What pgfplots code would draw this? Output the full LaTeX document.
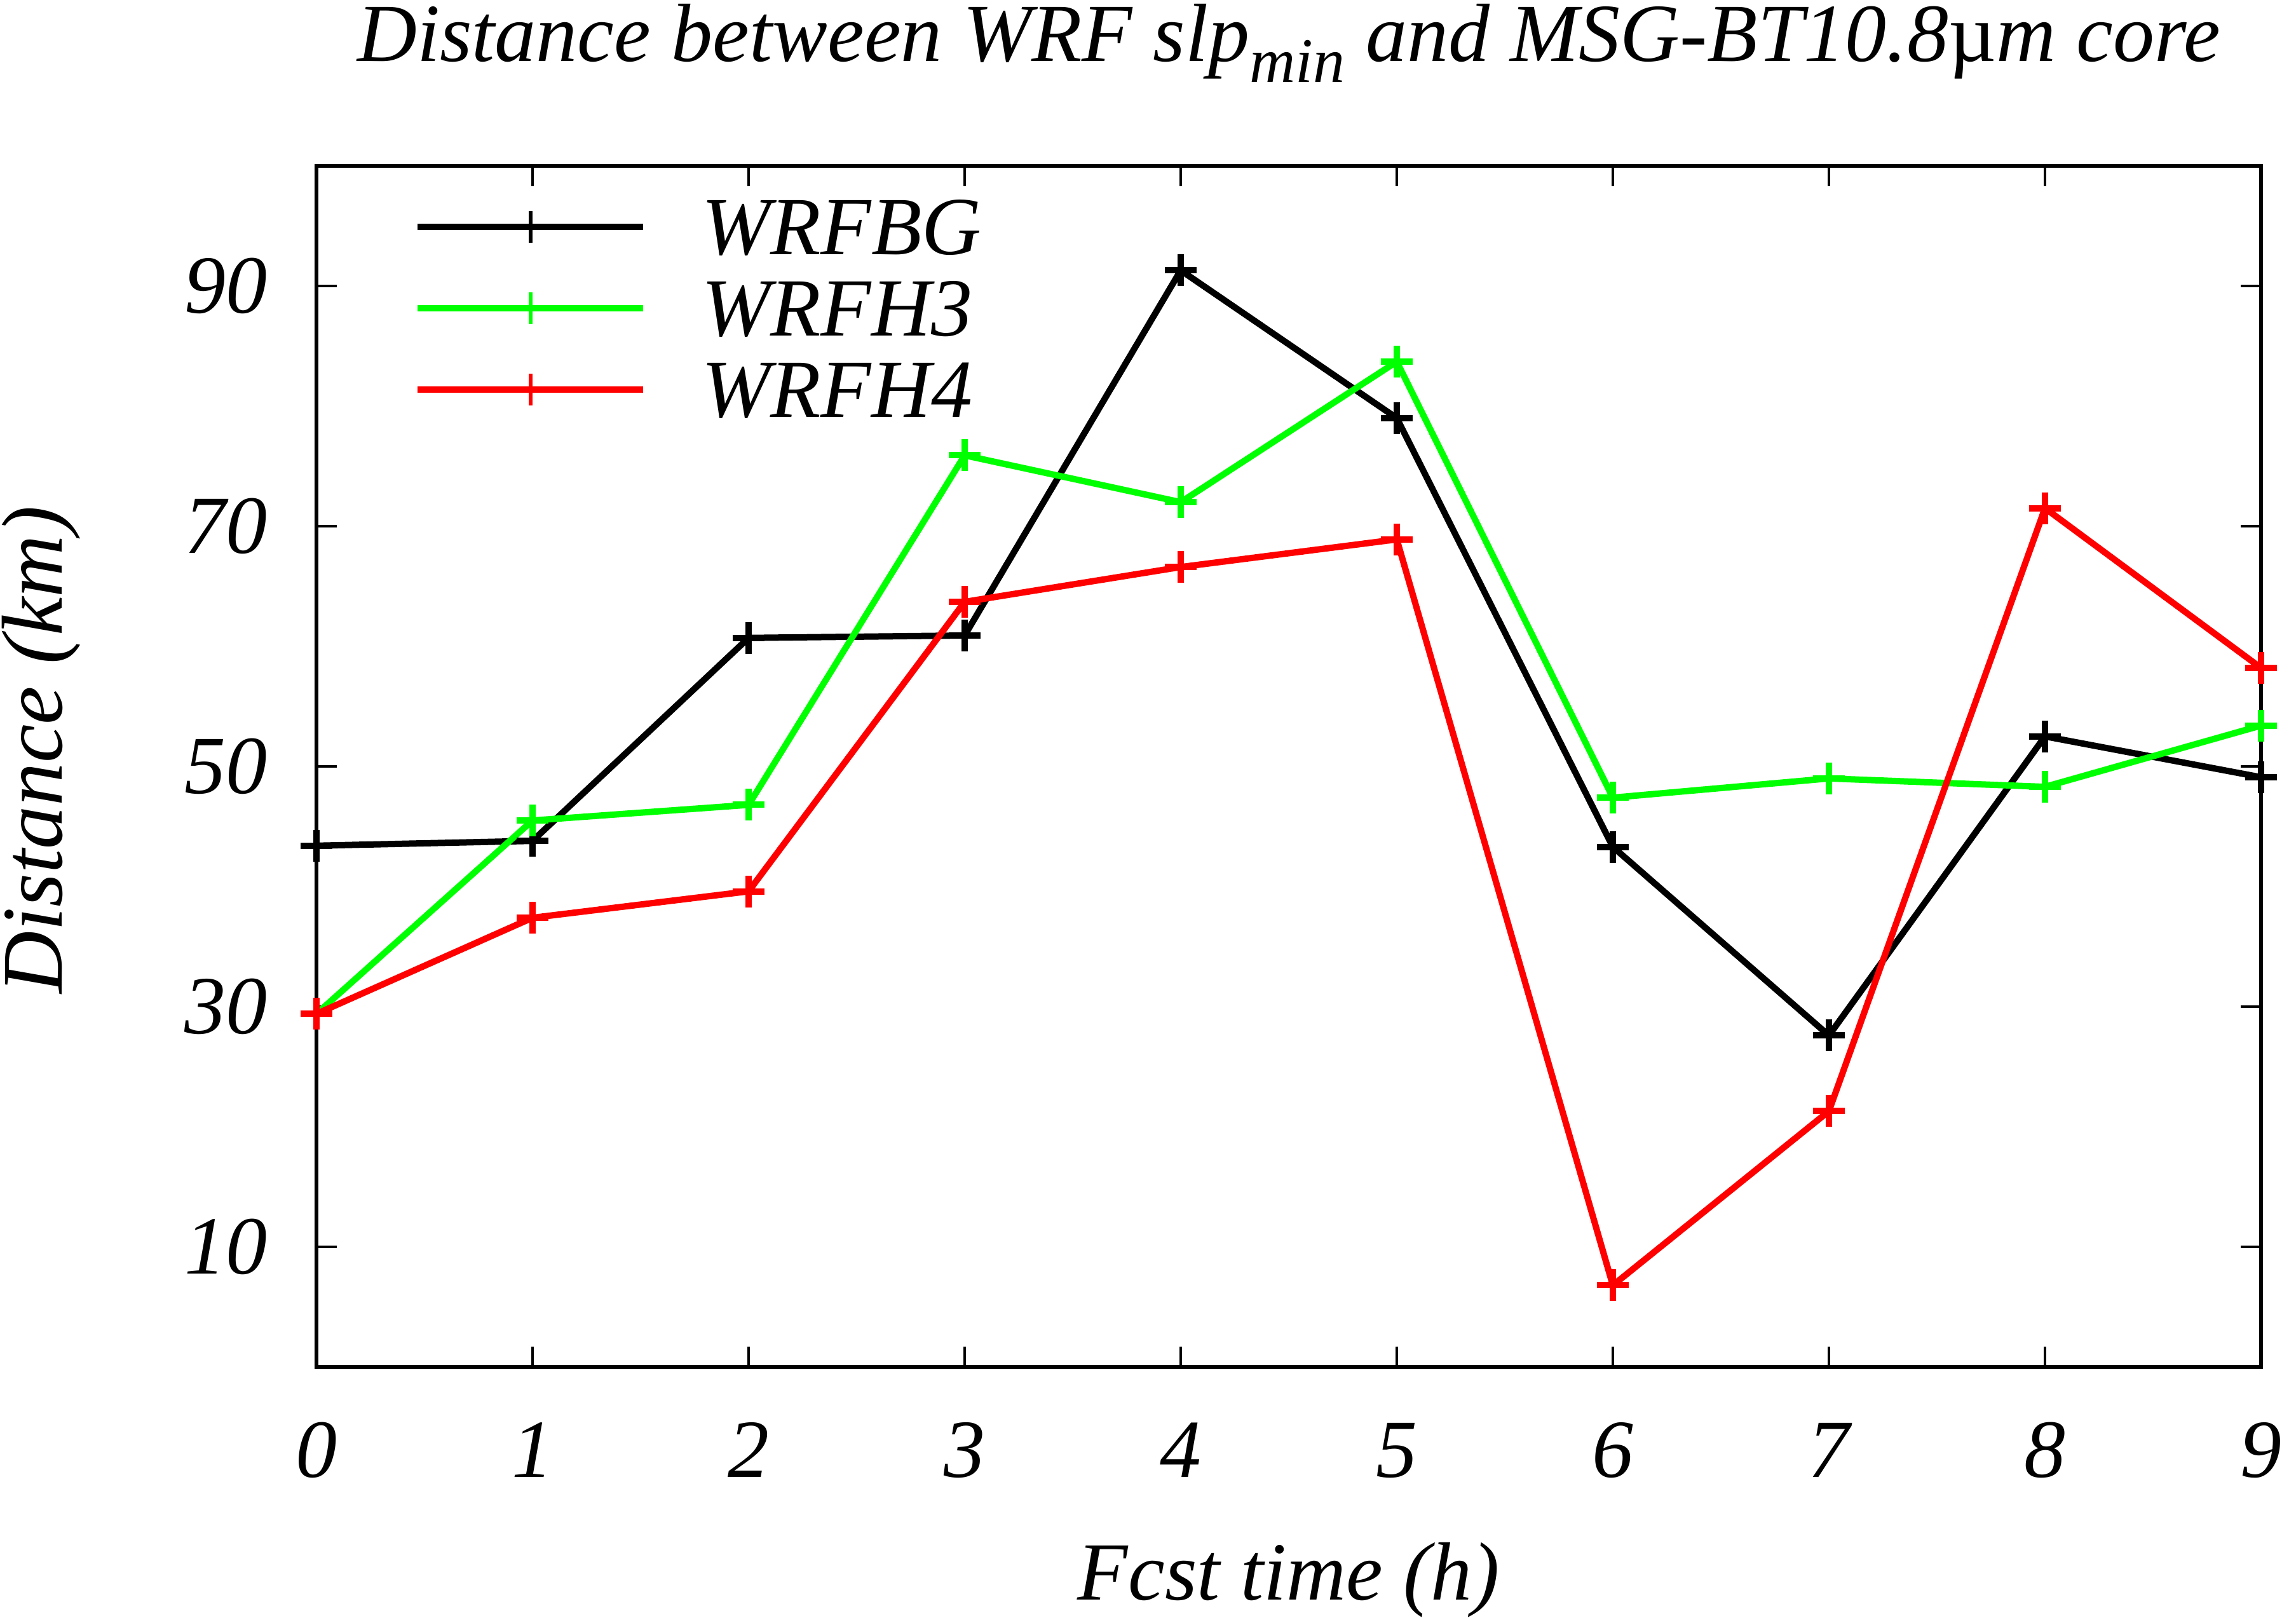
\documentclass[border=0pt]{standalone}
\usepackage{fontspec}
\setmainfont{Liberation Serif}
\usepackage{pgfplots}
\pgfplotsset{compat=1.18}
\definecolor{lgreen}{RGB}{0,255,0}
\definecolor{lred}{RGB}{255,0,0}
\begin{document}
\begin{tikzpicture}[font=\fontsize{13}{15.6}\selectfont\itshape]
\useasboundingbox (-49.8pt,-39.4pt) rectangle (311.5pt,215.1pt);
\begin{axis}[
  scale only axis, width=306pt, height=189pt,
  at={(0,0)}, anchor=south west,
  xmin=0, xmax=9, ymin=0, ymax=100,
  xtick={0,...,9}, ytick={10,30,50,70,90},
  tick align=inside, major tick length=3.2pt,
  axis line style={line width=0.55pt},
  every tick/.style={black, line width=0.4pt},
  /pgf/number format/assume math mode=true,
  xticklabel style={anchor=base, yshift=-17.3pt, inner sep=0pt},
  yticklabel style={anchor=east, xshift=-7.5pt, inner sep=0pt},
  title={Distance between WRF slp\raisebox{-3.3pt}{\fontsize{10}{12}\selectfont min} and MSG-BT10.8{\upshape µ}m core},
  title style={at={(0.5,1)}, anchor=base, yshift=10.4pt, inner sep=0pt},
  xlabel={Fcst time (h)},
  xlabel style={at={(0.5,0)}, anchor=base, yshift=-36.6pt, inner sep=0pt},
  ylabel={Distance (km)},
  ylabel style={at={(0,0.5)}, anchor=center, yshift=43.3pt, xshift=2.6pt, inner sep=0pt,
    font=\fontsize{13.6}{16}\selectfont\itshape},
  clip=false,
  legend style={draw=none, fill=none, at={(0.0497,0.975)}, anchor=north west,
    inner sep=0pt, column sep=8.7pt, row sep=1.8pt,
    nodes={inner sep=0pt, text height=9pt, text depth=2pt, anchor=base west}},
  legend cell align=left,
  legend image code/.code={\draw[#1] (0pt,4.3pt) -- (35.5pt,4.3pt);
    \draw[#1, only marks, mark options={line width=0.6pt}] plot coordinates {(17.75pt,4.3pt)};},
  every axis plot/.append style={line width=1pt, mark=+, mark size=2.5pt},
]
\addplot[black] coordinates {(0,43.4)(1,43.8)(2,60.7)(3,60.9)(4,91.3)(5,79.0)(6,43.3)(7,27.6)(8,52.5)(9,49.1)};
\addlegendentry{WRFBG}
\addplot[lgreen] coordinates {(0,29.4)(1,45.5)(2,46.8)(3,75.9)(4,72.0)(5,83.7)(6,47.4)(7,49.0)(8,48.3)(9,53.4)};
\addlegendentry{WRFH3}
\addplot[lred] coordinates {(0,29.4)(1,37.4)(2,39.6)(3,63.7)(4,66.6)(5,68.9)(6,6.8)(7,21.3)(8,71.5)(9,58.2)};
\addlegendentry{WRFH4}
\end{axis}
\end{tikzpicture}
\end{document}
